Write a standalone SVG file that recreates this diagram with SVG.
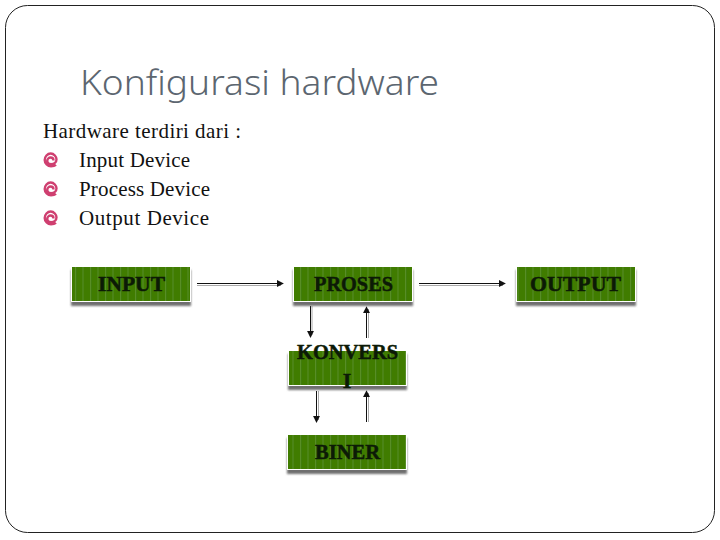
<svg xmlns="http://www.w3.org/2000/svg" width="720" height="540" viewBox="0 0 720 540">
<style>
.body{font-family:"Liberation Serif",serif;font-size:21px;fill:#111}
.title{font-family:"Noto Sans","Open Sans",sans-serif;font-size:35px;fill:#5c6670;font-weight:300}
.lbl{font-family:"Liberation Serif",serif;font-size:22px;font-weight:bold;fill:#0c1a06;text-anchor:middle;stroke:#0c1a06;stroke-width:.5}
.box{fill:url(#st);stroke:#fff;stroke-width:1;filter:url(#sh)}
.c{stroke:#111;stroke-width:1;fill:none}
.c2{stroke:#aaa;stroke-width:1;fill:none}
.sp{fill:none;stroke:#cf3f70;stroke-width:2.4}
</style>
<defs>
<pattern id="st" width="7.500" height="40" patternUnits="userSpaceOnUse">
<rect width="7.500" height="40" fill="#3f7b05"/>
<rect x="0" width="1" height="40" fill="#5a8f28"/>
</pattern>
<filter id="sh" x="-10%" y="-20%" width="120%" height="150%">
<feDropShadow dx="0" dy="4" stdDeviation="1" flood-color="#555" flood-opacity=".85"/>
</filter>
<marker id="a" viewBox="0 0 8 8" refX="7" refY="4" markerWidth="7" markerHeight="7" markerUnits="userSpaceOnUse" orient="auto">
<path d="M0 0L8 4L0 8z" fill="#111"/>
</marker>
<path id="spi" d="M53.500 160.500c0-2-1.500-3-3-3s-3.300 1.500-3.300 3.500 1.800 3.300 3.800 3.300c3.500 0 5.500-2.500 5.500-5s-2.500-5.800-5.800-5.800-6 3-6 6.500 3 6.300 6.300 6.300c2 0 3.800-.5 5-1.500"/>
</defs>
<rect x="5.500" y="5.500" width="709" height="527" rx="22" fill="#fff" stroke="#222" stroke-width="1"/>
<text class="title" x="80" y="95" textLength="359" lengthAdjust="spacingAndGlyphs">Konfigurasi hardware</text>
<text class="body" x="43" y="138" textLength="198">Hardware terdiri dari :</text>
<g class="sp"><use href="#spi"/><use href="#spi" y="29"/><use href="#spi" y="58"/></g>
<text class="body" x="79" y="167" textLength="111">Input Device</text>
<text class="body" x="79" y="196" textLength="131">Process Device</text>
<text class="body" x="79" y="225" textLength="130">Output Device</text>
<g id="connectors">
<path class="c2" d="M197 285.500H281M419 285.500H503M312 306V335M368.500 338V309M318.500 391V420M368.500 422V393"/>
<path class="c" marker-end="url(#a)" d="M197 283.500H283"/>
<path class="c" marker-end="url(#a)" d="M419 283.500H505"/>
<path class="c" marker-end="url(#a)" d="M310.500 306V337"/>
<path class="c" marker-end="url(#a)" d="M366.500 338V307"/>
<path class="c" marker-end="url(#a)" d="M316.500 391V422"/>
<path class="c" marker-end="url(#a)" d="M366.500 422V391"/>
</g>
<g id="input"><rect class="box" x="71.500" y="266.500" width="119" height="35"/><text class="lbl" x="131.500" y="291" textLength="67" lengthAdjust="spacingAndGlyphs">INPUT</text></g>
<g id="proses"><rect class="box" x="293.500" y="266.500" width="119" height="35"/><text class="lbl" x="353.500" y="291" textLength="79" lengthAdjust="spacingAndGlyphs">PROSES</text></g>
<g id="output"><rect class="box" x="516.500" y="266.500" width="119" height="35"/><text class="lbl" x="575.500" y="291" textLength="91" lengthAdjust="spacingAndGlyphs">OUTPUT</text></g>
<g id="konversi"><rect class="box" x="288.500" y="350.500" width="118" height="35"/><text class="lbl" x="347.500" y="359" textLength="101" lengthAdjust="spacingAndGlyphs">KONVERS</text><text class="lbl" x="347" y="388">I</text></g>
<g id="biner"><rect class="box" x="287.500" y="434.500" width="119" height="35"/><text class="lbl" x="347.500" y="459" textLength="65" lengthAdjust="spacingAndGlyphs">BINER</text></g>
</svg>
